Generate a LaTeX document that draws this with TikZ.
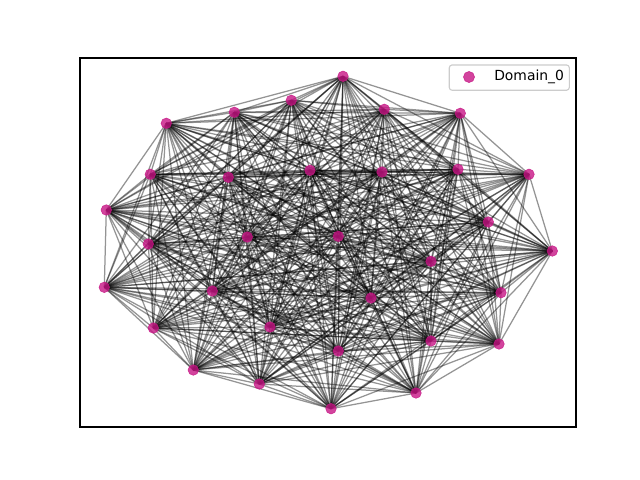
\documentclass[tikz,border=0pt]{standalone}
\usepackage{fontspec}
\setmainfont{DejaVu Sans}
\usetikzlibrary{backgrounds}
\definecolor{vr}{HTML}{C71585}
\definecolor{legedge}{HTML}{CCCCCC}
\tikzset{
  gnode/.style={circle,inner sep=0pt,minimum size=7.6pt,fill=vr,fill opacity=0.8,draw=vr,draw opacity=0.8,line width=0.4pt},
  gedge/.style={black,opacity=0.42,line width=0.9pt},
}
\begin{document}
\begin{tikzpicture}[x=0.72pt,y=-0.72pt]
\useasboundingbox (0,0) rectangle (640,480);
\foreach \k/\x/\y in {1/343/76.3,2/291.3/100.3,3/234.3/112.3,4/166.3/123.3,5/384.3/109.3,6/460.3/113.3,
7/150.3/174.3,8/228.3/177.3,9/310/170.3,10/382/172,11/458/169.3,12/529/174.3,
13/106.3/210,14/488.3/222,15/148.3/244,16/247.3/237,17/338.3/236.3,18/552.3/251,
19/431/261.3,20/104.3/287.3,21/212.3/291,22/371/298,23/501/292.7,24/153.3/328,
25/270/327,26/338.3/351,27/431/341,28/499/344,29/193.3/370,30/259.3/384,31/331/408.7,32/416/393}
  {\node[gnode] (n\k) at (\x,\y) {};}
\begin{scope}[on background layer]
\foreach \i in {1,...,31}{
  \pgfmathtruncatemacro{\s}{\i+1}
  \foreach \j in {\s,...,32}{
    \draw[gedge] (n\i.center) -- (n\j.center);
  }
}
\end{scope}
\draw[line width=0.8pt] (80,58) rectangle (576,427);
\node[draw=legedge,fill=white,fill opacity=0.8,text opacity=1,rounded corners=2pt,line width=0.8pt,
  minimum width=86.4pt,minimum height=18.2pt,inner sep=0pt] (leg) at (509.3,77.6) {};
\node[gnode,minimum size=8pt] (legm) at (469,77) {};
\node[anchor=west,font=\fontsize{10}{12}\selectfont,inner sep=0pt] (legt) at (494,77) {Domain\_0};
\end{tikzpicture}
\end{document}
